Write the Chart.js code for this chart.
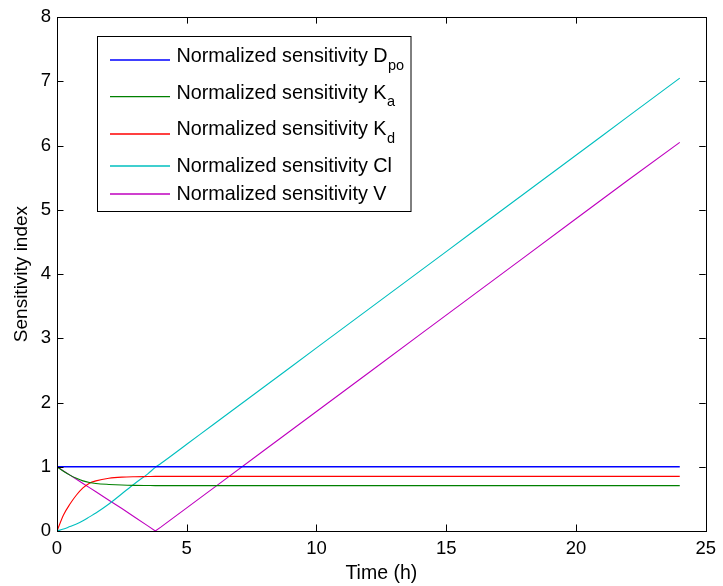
<!DOCTYPE html>
<html>
<head>
<meta charset="utf-8">
<script src="https://cdn.jsdelivr.net/npm/chart.js@4/dist/chart.umd.min.js"></script>
<style>
html,body{margin:0;padding:0;background:#fff;}
#wrap{width:723px;height:586px;position:relative;}
</style>
</head>
<body>
<div id="wrap"><canvas id="c" width="723" height="586"></canvas></div>
<script>
// ---- data ----
const times = [0,0.25,0.5,0.75,1,1.25,1.5,2,2.5,3,3.5,3.79,4,5,6,8,10,12,14,16,18,20,22,24];
const sensDpo = [1,1,1,1,1,1,1,1,1,1,1,1,1,1,1,1,1,1,1,1,1,1,1,1];
const sensKa  = [1,0.93,0.87,0.82,0.78,0.755,0.74,0.725,0.715,0.71,0.708,0.707,0.707,0.707,0.707,0.707,0.707,0.707,0.707,0.707,0.707,0.707,0.707,0.707];
const sensKd  = [0,0.25,0.42,0.56,0.67,0.745,0.78,0.82,0.838,0.845,0.848,0.85,0.85,0.85,0.85,0.85,0.85,0.85,0.85,0.85,0.85,0.85,0.85,0.85];
const sensCl  = [0,0.03,0.07,0.11,0.16,0.22,0.28,0.42,0.58,0.74,0.89,0.99,1.05,1.35,1.65,2.25,2.85,3.45,4.05,4.65,5.25,5.85,6.45,7.05];
const sensV   = [1,0.935,0.87,0.805,0.74,0.675,0.61,0.48,0.35,0.215,0.08,0,0.06,0.36,0.66,1.26,1.86,2.46,3.06,3.66,4.26,4.86,5.46,6.05];
const seriesNames = ["Normalized sensitivity D","Normalized sensitivity K","Normalized sensitivity K","Normalized sensitivity Cl","Normalized sensitivity V"];
const seriesSubs  = ["po","a","d","",""];
const xTicks = [0,5,10,15,20,25];
const yTicks = [0,1,2,3,4,5,6,7,8];
const xLabel = "Time (h)";
const yLabel = "Sensitivity index";

const colors = ["#0000ff","#008000","#ff0000","#00bfbf","#bf00bf"];
const FONT = "'Liberation Sans', Arial, Helvetica, sans-serif";

function pts(arr){ return times.map((t,i)=>({x:t,y:arr[i]})); }
const allSeries = [sensDpo,sensKa,sensKd,sensCl,sensV];
const datasets = allSeries.map((arr,i)=>({
  label: seriesNames[i] + seriesSubs[i],
  data: pts(arr),
  borderColor: colors[i],
  backgroundColor: colors[i],
  borderWidth: i===0 ? 1.6 : 1.1,
  pointRadius: 0,
  fill: false,
  cubicInterpolationMode: i===4 ? 'default' : 'monotone',
  tension: 0
}));

const matlabPlugin = {
  id: 'matlab',
  afterDraw(chart){
    const ctx = chart.ctx;
    const a = chart.chartArea;
    const xs = chart.scales.x, ys = chart.scales.y;
    ctx.save();
    ctx.strokeStyle = '#000';
    ctx.lineWidth = 1;
    // inward ticks
    ctx.beginPath();
    xs.ticks.forEach(t=>{
      const px = Math.round(xs.getPixelForValue(t.value))+0.5;
      ctx.moveTo(px, a.bottom); ctx.lineTo(px, a.bottom-6.5);
      ctx.moveTo(px, a.top); ctx.lineTo(px, a.top+6.5);
    });
    ys.ticks.forEach(t=>{
      const py = Math.round(ys.getPixelForValue(t.value))+0.5;
      ctx.moveTo(a.left, py); ctx.lineTo(a.left+6.5, py);
      ctx.moveTo(a.right, py); ctx.lineTo(a.right-6.5, py);
    });
    ctx.stroke();
    // frame
    ctx.strokeRect(Math.round(a.left)+0.5, Math.round(a.top)+0.5, Math.round(a.right-a.left), Math.round(a.bottom-a.top));

    // legend
    const bx=97.5, by=36.5, bw=313.5, bh=175;
    ctx.fillStyle='#fff';
    ctx.fillRect(bx,by,bw,bh);
    ctx.strokeStyle='#000';
    ctx.strokeRect(bx,by,bw,bh);
    const textY = [57, 93.5, 130, 166.7, 195];
    const lineY = [60, 96.7, 134, 166, 194];
    ctx.textBaseline='middle';
    ctx.textAlign='left';
    chart.data.datasets.forEach((ds,i)=>{
      ctx.strokeStyle = ds.borderColor;
      ctx.lineWidth = 1.3;
      ctx.beginPath();
      ctx.moveTo(110, lineY[i]);
      ctx.lineTo(170, lineY[i]);
      ctx.stroke();
      ctx.fillStyle='#000';
      ctx.font = '19.8px ' + FONT;
      ctx.fillText(seriesNames[i], 176.5, textY[i]);
      if (seriesSubs[i]) {
        const w = ctx.measureText(seriesNames[i]).width;
        ctx.font = '14.5px ' + FONT;
        ctx.fillText(seriesSubs[i], 176.5 + w + 0.5, textY[i] + 8.5);
      }
    });
    ctx.restore();
  }
};

new Chart(document.getElementById('c'), {
  type: 'line',
  data: { datasets },
  options: {
    responsive: false,
    animation: false,
    events: [],
    layout: { padding: { top: 17, right: 14, left: 0, bottom: 0 } },
    plugins: { legend: { display: false }, tooltip: { enabled: false } },
    scales: {
      x: {
        type: 'linear', min: 0, max: 25,
        afterBuildTicks(s){ s.ticks = xTicks.map(v=>({value:v})); },
        afterFit(s){ s.height = 55; },
        grid: { display: false, drawTicks: false },
        border: { display: false },
        ticks: { color:'#000', font:{ family: FONT, size: 18.5 }, padding: 7, maxRotation: 0, autoSkip: false },
        title: { display: true, text: xLabel, color:'#000', font:{ family: FONT, size: 19.5 }, padding:{ top:0, bottom:1 } }
      },
      y: {
        type: 'linear', min: 0, max: 8,
        afterBuildTicks(s){ s.ticks = yTicks.map(v=>({value:v})); },
        afterFit(s){ s.width = 57; },
        grid: { display: false, drawTicks: false },
        border: { display: false },
        ticks: { color:'#000', font:{ family: FONT, size: 18.5 }, padding: 6, autoSkip: false },
        title: { display: true, text: yLabel, color:'#000', font:{ family: FONT, size: 19 }, padding:{ top:10, bottom:0 } }
      }
    }
  },
  plugins: [matlabPlugin]
});
</script>
</body>
</html>
